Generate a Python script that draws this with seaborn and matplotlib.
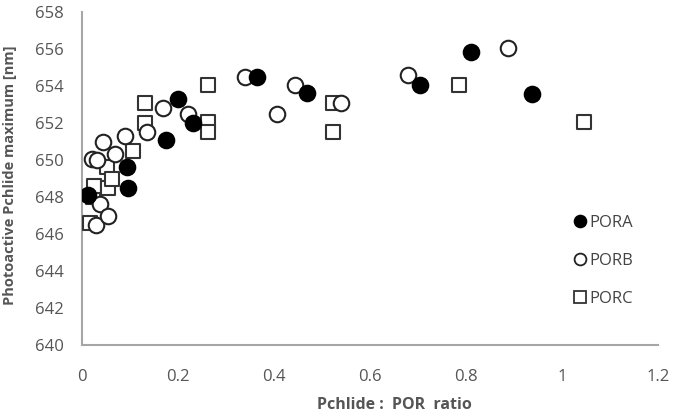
import matplotlib
matplotlib.use("Agg")
import matplotlib.pyplot as plt
import seaborn as sns
import pandas as pd
from matplotlib.lines import Line2D

sns.set_theme(style="white")
plt.rcParams['font.family'] = ['Open Sans', 'DejaVu Sans']

pora_x = [0.013, 0.094, 0.096, 0.175, 0.20, 0.232, 0.365, 0.468, 0.704, 0.81, 0.937]
pora_y = [648.1, 649.6, 648.5, 651.1, 653.3, 652.0, 654.5, 653.6, 654.05, 655.85, 653.55]

porb_x = [0.021, 0.031, 0.030, 0.037, 0.054, 0.044, 0.069, 0.09, 0.135, 0.169, 0.221,
          0.34, 0.406, 0.444, 0.54, 0.68, 0.888]
porb_y = [650.05, 650.0, 646.5, 647.6, 647.0, 651.0, 650.35, 651.3, 651.5, 652.8, 652.5,
          654.5, 652.5, 654.05, 653.1, 654.6, 656.05]

porc_x = [0.017, 0.023, 0.025, 0.052, 0.054, 0.0625, 0.106, 0.131, 0.131, 0.262, 0.262,
          0.262, 0.523, 0.523, 0.785, 1.046]
porc_y = [646.6, 648.0, 648.6, 649.6, 648.5, 649.0, 650.5, 653.1, 652.0, 654.05, 652.05,
          651.5, 653.1, 651.5, 654.05, 652.05]

series = ["PORA", "PORB", "PORC"]
x_ticks = [0, 0.2, 0.4, 0.6, 0.8, 1, 1.2]
x_tick_labels = ["0", "0.2", "0.4", "0.6", "0.8", "1", "1.2"]
y_ticks = list(range(640, 659, 2))

df = pd.concat([
    pd.DataFrame({"x": pora_x, "y": pora_y, "s": "PORA"}),
    pd.DataFrame({"x": porb_x, "y": porb_y, "s": "PORB"}),
    pd.DataFrame({"x": porc_x, "y": porc_y, "s": "PORC"}),
])

fig = plt.figure(figsize=(6.79, 4.16), dpi=100)
ax = fig.add_axes([82/679, 1-345/416, (658-82)/679, (345-12)/416])

styles = {
    "PORA": dict(marker="o", facecolor="black", edgecolor="black", s=125),
    "PORB": dict(marker="o", facecolor="white", edgecolor="#222222", s=125),
    "PORC": dict(marker="s", facecolor="white", edgecolor="#333333", s=110),
}
for name in ["PORC", "PORB", "PORA"]:
    st = styles[name]
    sub = df[df["s"] == name]
    sns.scatterplot(data=sub, x="x", y="y", ax=ax, marker=st["marker"],
                    facecolor=st["facecolor"], edgecolor=st["edgecolor"],
                    linewidth=1.5, s=st["s"], legend=False, zorder=3)

ax.set_xlim(0, 1.2)
ax.set_ylim(640, 658)
ax.set_xticks(x_ticks)
ax.set_xticklabels(x_tick_labels)
ax.set_yticks(y_ticks)

for sp in ["top", "right"]:
    ax.spines[sp].set_visible(False)
for sp in ["left", "bottom"]:
    ax.spines[sp].set_color("#a6a6a6")
    ax.spines[sp].set_linewidth(1.5)

ax.tick_params(axis="both", which="both", direction="out", length=4, width=1.2,
               color="#a6a6a6", labelcolor="#555555", labelsize=12)
ax.tick_params(axis="x", pad=13)
ax.tick_params(axis="y", pad=9)

ax.set_xlabel("Pchlide :  POR  ratio", fontsize=11.5, fontweight="bold", color="#555555")
ax.xaxis.set_label_coords((394-82)/576, -(397-345)/333)
ax.set_ylabel("Photoactive Pchlide maximum [nm]", fontsize=10.5, fontweight="bold", color="#555555")
ax.yaxis.set_label_coords(-(82-17)/576, (345-175)/333)

handles = [
    Line2D([], [], linestyle="none", marker="o", markersize=8.5, markerfacecolor="black", markeredgecolor="black", markeredgewidth=1.3),
    Line2D([], [], linestyle="none", marker="o", markersize=8.5, markerfacecolor="white", markeredgecolor="#222222", markeredgewidth=1.3),
    Line2D([], [], linestyle="none", marker="s", markersize=8.5, markerfacecolor="white", markeredgecolor="#333333", markeredgewidth=1.3),
]
leg = ax.legend(handles, series, loc="upper left", bbox_to_anchor=((574-82)/576, (345-215)/333),
                frameon=False, labelspacing=1.32, handlelength=0.7, handletextpad=0.2,
                fontsize=12, borderaxespad=0, borderpad=0)
for t in leg.get_texts():
    t.set_color("#444444")

fig.savefig("out.png", dpi=100)
